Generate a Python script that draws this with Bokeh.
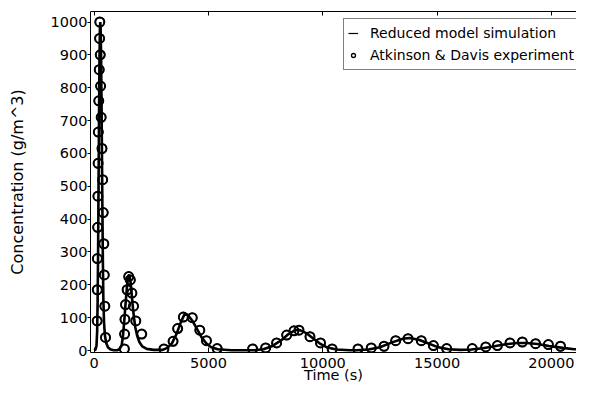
from bokeh.plotting import figure
from bokeh.models import (Range1d, FixedTicker, LinearAxis, Legend, LegendItem,
                          ColumnDataSource)
from bokeh.embed import file_html
from bokeh.resources import INLINE

# ---------------- data ----------------
sim_t = [0, 60, 100, 130, 150, 170, 190, 210, 230, 250, 265, 280, 300, 320, 340,
         360, 380, 400, 430, 470, 530, 600, 700, 850, 1000, 1100, 1200, 1260,
         1320, 1380, 1440, 1500, 1540, 1580, 1630, 1680, 1740, 1800, 1880, 1980,
         2100, 2300, 2600, 3000, 3200, 3400, 3600, 3800, 3950, 4100, 4300, 4500,
         4700, 4900, 5100, 5400, 6000, 7000, 7400, 7800, 8200, 8500, 8800, 9000,
         9300, 9600, 9900, 10200, 10600, 11200, 11500, 12000, 12500, 13000,
         13500, 13800, 14200, 14600, 15000, 15500, 16000, 16500, 17000, 17500,
         18000, 18500, 18900, 19400, 19900, 20500, 21000, 21800]
sim_c = [0, 3, 15, 60, 150, 300, 500, 700, 880, 980, 1000, 985, 900, 760, 590,
         420, 270, 160, 85, 45, 22, 10, 4, 1, 1, 4, 15, 45,
         95, 150, 200, 228, 230, 215, 180, 140, 100, 70, 45, 25,
         13, 5, 2, 2, 8, 22, 50, 88, 110, 108, 90, 65,
         40, 22, 11, 4, 1, 1, 4, 14, 32, 50, 62, 62,
         52, 36, 20, 9, 3, 1, 1, 3, 10, 24,
         36, 38, 33, 22, 11, 4, 2, 3, 7, 13,
         19, 23, 23, 20, 14, 8, 4, 2]

exp_t = [130, 135, 140, 150, 160, 170, 180, 200, 220, 235, 245, 265, 280, 305,
         340, 370, 395, 420, 440, 465, 495,
         1320, 1330, 1345, 1370, 1440, 1510, 1580, 1650, 1720, 1820, 2080,
         3050, 3450, 3650, 3900, 4290, 4620, 4910, 5380, 6930, 7500, 7980, 8420,
         8740, 8960, 9440, 9900, 10410, 11540, 12120, 12680, 13190, 13730, 14310,
         14840, 15420, 16540, 17130, 17640, 18190, 18730, 19310, 19870, 20400]
exp_c = [90, 185, 280, 375, 470, 570, 665, 760, 855, 950, 1000, 900, 805, 710,
         615, 520, 420, 325, 230, 135, 40,
         5, 50, 95, 140, 185, 225, 215, 175, 135, 90, 50,
         5, 28, 67, 102, 100, 62, 30, 6, 5, 8, 23, 47,
         60, 62, 42, 23, 5, 5, 8, 13, 30, 36, 30,
         15, 6, 6, 11, 15, 23, 26, 21, 18, 13]

x_ticks = [0, 5000, 10000, 15000, 20000]
x_tick_labels = ["0", "5000", "10000", "15000", "20000"]
y_ticks = [0, 100, 200, 300, 400, 500, 600, 700, 800, 900, 1000]
y_tick_labels = ["0", "100", "200", "300", "400", "500", "600", "700", "800", "900", "1000"]

series_names = ["Reduced model simulation", "Atkinson & Davis experiment"]
x_title = "Time (s)"
y_title = "Concentration (g/m^3)"

# ---------------- figure ----------------
FONT = "DejaVu Sans"
p = figure(width=576, height=385, output_backend="svg", toolbar_location=None,
           x_range=Range1d(-162, 21100), y_range=Range1d(-6, 1032),
           min_border_left=90, min_border_right=0, min_border_top=11,
           min_border_bottom=0)
p.outline_line_color = None
p.xgrid.grid_line_color = None
p.ygrid.grid_line_color = None
p.background_fill_color = "white"
p.border_fill_color = "white"

xa = p.xaxis[0]
xa.ticker = FixedTicker(ticks=x_ticks)
xa.major_label_overrides = dict(zip(x_ticks, x_tick_labels))
xa.major_tick_in = 5
xa.major_tick_out = 0
xa.minor_tick_in = 0
xa.minor_tick_out = 0
xa.major_label_standoff = 5
xa.major_label_text_font = FONT
xa.major_label_text_font_size = "14.5px"
xa.major_label_text_color = "black"
xa.axis_line_color = "black"
xa.major_tick_line_color = "black"
xa.axis_label = x_title
xa.axis_label_standoff = -4
xa.axis_label_text_font = FONT
xa.axis_label_text_font_size = "14.5px"
xa.axis_label_text_font_style = "normal"
xa.axis_label_text_color = "black"

ya = p.yaxis[0]
ya.ticker = FixedTicker(ticks=y_ticks)
ya.major_label_overrides = dict(zip(y_ticks, y_tick_labels))
ya.major_tick_in = 0
ya.major_tick_out = 3
ya.minor_tick_in = 0
ya.minor_tick_out = 0
ya.major_label_standoff = 0
ya.major_label_text_font = FONT
ya.major_label_text_font_size = "14.5px"
ya.major_label_text_color = "black"
ya.axis_line_color = "black"
ya.major_tick_line_color = "black"
ya.axis_label = y_title
ya.axis_label_standoff = 21
ya.axis_label_text_font = FONT
ya.axis_label_text_font_size = "16px"
ya.axis_label_text_font_style = "normal"
ya.axis_label_text_color = "black"

# top spine with inward ticks, no labels
top = LinearAxis(ticker=FixedTicker(ticks=x_ticks))
top.major_label_text_color = None
top.major_label_standoff = 0
top.major_tick_in = 4
top.major_tick_out = 0
top.minor_tick_in = 0
top.minor_tick_out = 0
top.axis_line_color = "black"
top.major_tick_line_color = "black"
p.add_layout(top, "above")

# ---------------- marks ----------------
src_sim = ColumnDataSource(dict(t=sim_t, c=sim_c))
src_exp = ColumnDataSource(dict(t=exp_t, c=exp_c))

# thin copies used only for the legend glyphs (fully covered by the real marks)
leg_line = p.line("t", "c", source=src_sim, line_color="black", line_width=1.2)
leg_pts = p.scatter("t", "c", source=src_exp, marker="circle", size=9,
                    fill_color=None, line_color="black", line_width=1.3)

p.line("t", "c", source=src_sim, line_color="black", line_width=2.6)
p.scatter("t", "c", source=src_exp, marker="circle", size=9, fill_color=None,
          line_color="black", line_width=2)

legend = Legend(items=[LegendItem(label=series_names[0], renderers=[leg_line]),
                       LegendItem(label=series_names[1], renderers=[leg_pts])],
                location=(253, 282))
legend.label_text_font = FONT
legend.label_text_font_size = "14px"
legend.label_text_color = "black"
legend.glyph_width = 10
legend.glyph_height = 10
legend.label_height = 20
legend.label_standoff = 12
legend.spacing = 2
legend.padding = 4
legend.margin = 0
legend.border_line_color = "black"
legend.border_line_width = 1
legend.background_fill_color = "white"
legend.background_fill_alpha = 1.0
p.add_layout(legend)

open("out.html", "w").write(file_html(p, INLINE))
